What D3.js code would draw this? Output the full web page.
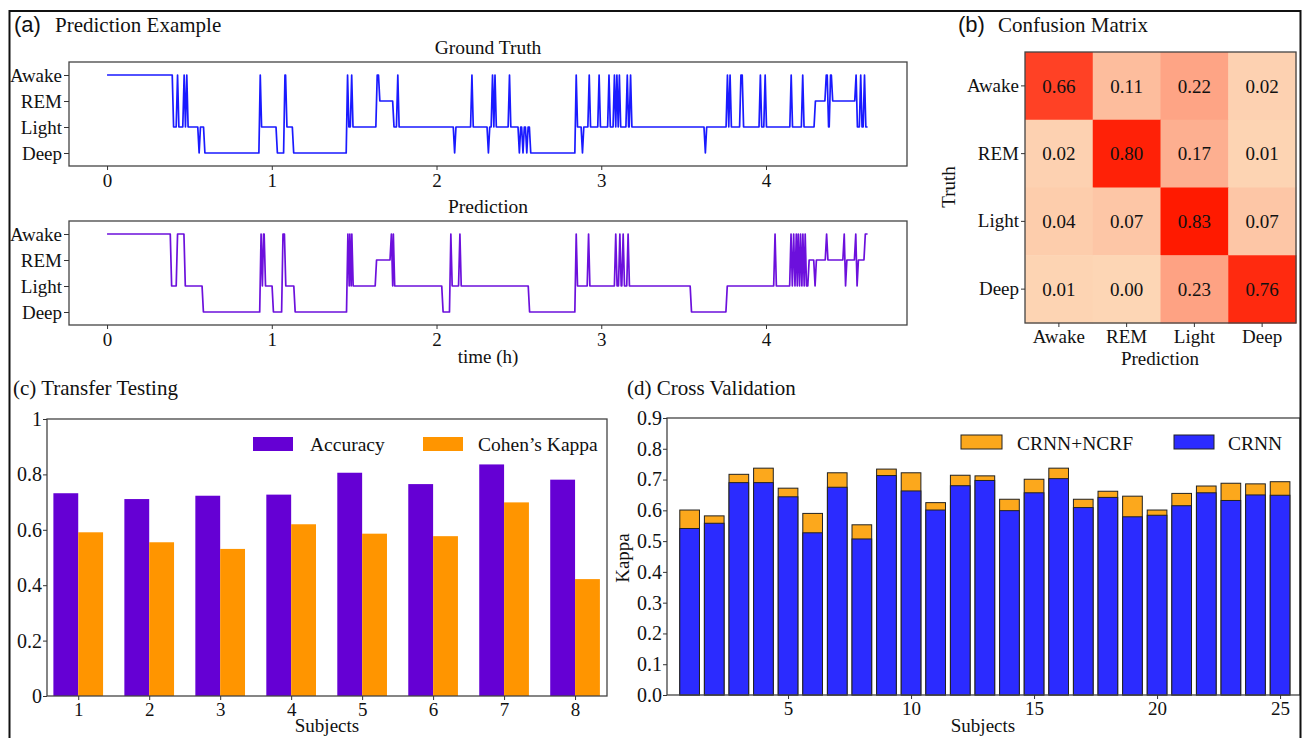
<!DOCTYPE html>
<html><head><meta charset="utf-8">
<script src="https://cdn.jsdelivr.net/npm/d3@7"></script>
<style>html,body{margin:0;padding:0;background:#fff;}svg{display:block;}</style>
</head><body>
<svg id="fig" width="1306" height="738"></svg>
<script>
// ---------------- DATA ----------------
const stageNames = ["Deep", "Light", "REM", "Awake"]; // codes 0..3
const hourTicks = [0, 1, 2, 3, 4];
// hypnogram stage changes: [start hour, stage code]
const gtStageChanges = [
 [0.000,3],[0.404,1],[0.428,3],[0.436,1],[0.468,3],[0.476,1],[0.484,3],[0.492,1],
 [0.559,0],[0.567,1],[0.594,0],[0.930,3],[0.938,1],[1.034,0],[1.080,3],[1.092,1],[1.133,0],
 [1.460,3],[1.468,1],[1.485,3],[1.493,1],[1.640,3],[1.656,2],[1.742,1],[1.765,3],[1.773,1],
 [2.110,0],[2.118,1],[2.215,3],[2.223,1],[2.315,0],[2.323,1],[2.340,3],[2.348,1],[2.355,3],[2.363,1],
 [2.443,3],[2.451,1],[2.503,0],[2.511,1],[2.525,0],[2.533,1],[2.548,0],[2.556,1],[2.572,0],
 [2.848,3],[2.856,1],[2.886,0],[2.894,1],[2.927,3],[2.935,1],[2.987,3],[2.995,1],[3.047,3],[3.055,1],
 [3.080,3],[3.088,1],[3.095,3],[3.103,1],[3.110,3],[3.118,1],[3.158,3],[3.166,1],[3.178,3],[3.186,1],
 [3.632,0],[3.640,1],[3.766,3],[3.774,1],[3.782,3],[3.790,1],[3.848,3],[3.864,1],[3.966,3],[3.974,1],[3.995,3],[4.003,1],
 [4.153,3],[4.161,1],[4.223,3],[4.231,1],[4.300,2],[4.366,3],[4.380,1],[4.392,3],[4.405,2],
 [4.547,3],[4.555,1],[4.575,3],[4.583,1],[4.598,3],[4.606,1]
];
const gtEndHour = 4.625;
const predStageChanges = [
 [0.000,3],[0.392,1],[0.428,3],[0.475,1],[0.585,0],
 [0.935,3],[0.943,1],[0.950,3],[0.962,1],[1.010,0],[1.068,3],[1.085,1],[1.142,0],
 [1.462,3],[1.470,1],[1.474,3],[1.482,1],[1.486,3],[1.494,1],[1.636,2],
 [1.726,3],[1.734,1],[1.738,3],[1.746,1],[2.040,0],[2.087,3],[2.095,1],[2.142,3],[2.150,1],
 [2.565,0],[2.848,3],[2.856,1],[2.923,3],[2.931,1],[3.088,3],[3.096,1],[3.113,3],[3.121,1],[3.133,3],[3.141,1],[3.163,3],[3.171,1],
 [3.548,0],[3.765,1],[4.055,3],[4.063,1],
 [4.152,3],[4.160,1],[4.168,3],[4.176,1],[4.184,3],[4.190,1],[4.196,3],[4.204,1],[4.210,3],[4.218,1],[4.224,3],[4.232,1],[4.238,3],[4.246,1],
 [4.262,2],[4.298,1],[4.306,2],[4.368,3],[4.376,2],[4.475,3],[4.483,1],[4.491,2],[4.545,3],[4.553,1],[4.561,2],[4.603,3]
];
const predEndHour = 4.625;
const epochHours = 1 / 120;

// confusion matrix (rows = truth, cols = prediction)
const cmLabels = ["Awake", "REM", "Light", "Deep"];
const cmValues = [
 [0.66, 0.11, 0.22, 0.02],
 [0.02, 0.80, 0.17, 0.01],
 [0.04, 0.07, 0.83, 0.07],
 [0.01, 0.00, 0.23, 0.76]
];

// transfer testing
const transferSubjects = [1, 2, 3, 4, 5, 6, 7, 8];
const transferAccuracy = [0.732, 0.711, 0.723, 0.727, 0.806, 0.765, 0.836, 0.781];
const transferKappa = [0.591, 0.555, 0.531, 0.620, 0.586, 0.577, 0.699, 0.422];
const transferTicks = [0, 0.2, 0.4, 0.6, 0.8, 1];

// cross validation
const cvSubjects = d3.range(1, 26);
const cvCRNN = [0.541,0.558,0.690,0.690,0.644,0.527,0.675,0.507,0.713,0.663,0.601,0.680,0.697,
                0.599,0.657,0.703,0.609,0.642,0.579,0.584,0.615,0.657,0.632,0.650,0.649];
const cvCRNNNCRF = [0.601,0.582,0.717,0.737,0.672,0.590,0.722,0.553,0.734,0.722,0.625,0.714,0.712,
                0.636,0.701,0.737,0.636,0.662,0.646,0.601,0.655,0.679,0.688,0.686,0.693];
const cvYTicks = [0,0.1,0.2,0.3,0.4,0.5,0.6,0.7,0.8,0.9];
const cvXTicks = [5, 10, 15, 20, 25];

// ---------------- DRAW ----------------
const SERIF = "'Liberation Serif','Times New Roman',serif";
const SANS = "'Liberation Sans',Arial,sans-serif";
const svg = d3.select("#fig");
svg.append("rect").attr("width",1306).attr("height",738).attr("fill","#fff");

function txt(x, y, s, size, opts = {}) {
  const t = svg.append("text").attr("x", x).attr("y", y).text(s)
    .attr("font-family", opts.family || SERIF).attr("font-size", size)
    .attr("fill", "#111").attr("text-anchor", opts.anchor || "start");
  if (opts.rotate) t.attr("transform", `rotate(${opts.rotate},${x},${y})`);
  return t;
}
function styleAxis(g, size) {
  g.select(".domain").remove();
  g.selectAll("text").attr("font-family", SERIF).attr("font-size", size).attr("fill", "#111");
  g.selectAll("line").attr("stroke", "#333").attr("stroke-width", 1);
}
function box(x0, y0, x1, y1) {
  svg.append("rect").attr("x", x0).attr("y", y0).attr("width", x1 - x0).attr("height", y1 - y0)
    .attr("fill", "none").attr("stroke", "#444").attr("stroke-width", 1.3);
}
function hypnoPoints(changes, end) {
  const pts = [];
  changes.forEach(([t, s], i) => {
    const next = i < changes.length - 1 ? changes[i + 1][0] : end;
    pts.push([t, s]);
    if (next - epochHours > t + 1e-6) pts.push([next - epochHours, s]);
  });
  return pts;
}

// ---- Panel (a) ----
txt(14, 32, "(a)", 22, {family: SANS});
txt(55, 32, "Prediction Example", 21);
const xA = d3.scaleLinear().domain([-0.231, 4.856]).range([69, 907]);
function hypnoPanel(top, bottom, changes, end, color, title) {
  const y = d3.scaleLinear().domain([-0.5, 3.5]).range([bottom, top]);
  const line = d3.line().x(d => xA(d[0])).y(d => y(d[1]));
  svg.append("path").datum(hypnoPoints(changes, end)).attr("d", line)
    .attr("fill", "none").attr("stroke", color).attr("stroke-width", 1.7).attr("stroke-linejoin", "round");
  box(69, top, 907, bottom);
  const gy = svg.append("g").attr("transform", `translate(69,0)`)
    .call(d3.axisLeft(y).tickValues([0,1,2,3]).tickFormat(i => stageNames[i]).tickSize(5).tickPadding(2));
  styleAxis(gy, 19);
  const gx = svg.append("g").attr("transform", `translate(0,${bottom})`)
    .call(d3.axisBottom(xA).tickValues(hourTicks).tickFormat(d3.format("d")).tickSize(4).tickPadding(4));
  styleAxis(gx, 19);
  txt(488, top - 8, title, 19.5, {anchor: "middle"});
}
hypnoPanel(62, 166, gtStageChanges, gtEndHour, "#1a1aff", "Ground Truth");
hypnoPanel(221, 325, predStageChanges, predEndHour, "#6c10dc", "Prediction");
txt(488, 363, "time (h)", 19, {anchor: "middle"});

// ---- Panel (b) ----
txt(958, 32, "(b)", 22, {family: SANS});
txt(998, 32, "Confusion Matrix", 21);
const xB = d3.scaleBand().domain(cmLabels).range([1025, 1296]);
const yB = d3.scaleBand().domain(cmLabels).range([52, 323]);
const cmColor = d3.scaleLinear().domain([0, 0.83]).range(["#fdd6b5", "#ff1a00"]).interpolate(d3.interpolateRgb).clamp(true);
const cells = [];
cmValues.forEach((row, i) => row.forEach((v, j) => cells.push({r: cmLabels[i], c: cmLabels[j], v})));
svg.append("g").selectAll("rect").data(cells).join("rect")
  .attr("x", d => xB(d.c)).attr("y", d => yB(d.r))
  .attr("width", xB.bandwidth() + 0.5).attr("height", yB.bandwidth() + 0.5)
  .attr("fill", d => cmColor(d.v));
svg.append("g").selectAll("text").data(cells).join("text")
  .attr("x", d => xB(d.c) + xB.bandwidth() / 2).attr("y", d => yB(d.r) + yB.bandwidth() / 2)
  .attr("dy", "0.35em").attr("text-anchor", "middle")
  .attr("font-family", SERIF).attr("font-size", 19).attr("fill", "#111")
  .text(d => d.v.toFixed(2));
box(1025, 52, 1296, 323);
const gyB = svg.append("g").attr("transform", "translate(1025,0)")
  .call(d3.axisLeft(yB).tickSize(4).tickPadding(2));
styleAxis(gyB, 19);
const gxB = svg.append("g").attr("transform", "translate(0,323)")
  .call(d3.axisBottom(xB).tickSize(4).tickPadding(3));
styleAxis(gxB, 19);
txt(1160, 365, "Prediction", 19, {anchor: "middle"});
txt(955, 187, "Truth", 19, {anchor: "middle", rotate: -90});

// ---- Panel (c) ----
txt(13, 395, "(c) Transfer Testing", 21);
const xC = d3.scaleLinear().domain([0.56, 8.45]).range([47, 607]);
const yC = d3.scaleLinear().domain([0, 1]).range([696, 419]);
const barW = 0.35;
const accColor = "#6500d4", kapColor = "#ff9500";
svg.append("g").selectAll("rect").data(transferSubjects).join("rect")
  .attr("x", (d) => xC(d - barW)).attr("width", (d) => xC(d) - xC(d - barW))
  .attr("y", (d, i) => yC(transferAccuracy[i])).attr("height", (d, i) => yC(0) - yC(transferAccuracy[i]))
  .attr("fill", accColor);
svg.append("g").selectAll("rect").data(transferSubjects).join("rect")
  .attr("x", (d) => xC(d)).attr("width", (d) => xC(d + barW) - xC(d))
  .attr("y", (d, i) => yC(transferKappa[i])).attr("height", (d, i) => yC(0) - yC(transferKappa[i]))
  .attr("fill", kapColor);
box(47, 419, 607, 696);
const gyC = svg.append("g").attr("transform", "translate(47,0)")
  .call(d3.axisLeft(yC).tickValues(transferTicks).tickFormat(v => (v === 0 || v === 1) ? String(v) : v.toFixed(1)).tickSize(4).tickPadding(1));
styleAxis(gyC, 20);
const gxC = svg.append("g").attr("transform", "translate(0,696)")
  .call(d3.axisBottom(xC).tickValues(transferSubjects).tickFormat(d3.format("d")).tickSize(4).tickPadding(3));
styleAxis(gxC, 19);
txt(327, 732, "Subjects", 19, {anchor: "middle"});
// legend
svg.append("rect").attr("x", 253).attr("y", 437).attr("width", 40).attr("height", 14).attr("fill", accColor);
txt(310, 451, "Accuracy", 19.5);
svg.append("rect").attr("x", 423).attr("y", 437).attr("width", 40).attr("height", 14).attr("fill", kapColor);
txt(478, 451, "Cohen\u2019s Kappa", 19.5);

// ---- Panel (d) ----
txt(627, 395, "(d) Cross Validation", 21);
const xD = d3.scaleLinear().domain([0.08, 25.81]).range([667, 1300]);
const yD = d3.scaleLinear().domain([0, 0.9]).range([695, 418]);
const cvBlue = "#2b2bff", cvOrange = "#fca81c";
svg.append("g").selectAll("rect").data(cvSubjects).join("rect")
  .attr("x", d => xD(d - 0.4)).attr("width", d => xD(d + 0.4) - xD(d - 0.4))
  .attr("y", (d, i) => yD(cvCRNNNCRF[i])).attr("height", (d, i) => yD(0) - yD(cvCRNNNCRF[i]))
  .attr("fill", cvOrange).attr("stroke", "#222").attr("stroke-width", 1);
svg.append("g").selectAll("rect").data(cvSubjects).join("rect")
  .attr("x", d => xD(d - 0.4)).attr("width", d => xD(d + 0.4) - xD(d - 0.4))
  .attr("y", (d, i) => yD(cvCRNN[i])).attr("height", (d, i) => yD(0) - yD(cvCRNN[i]))
  .attr("fill", cvBlue).attr("stroke", "#222").attr("stroke-width", 1);
box(667, 418, 1300, 695);
const gyD = svg.append("g").attr("transform", "translate(667,0)")
  .call(d3.axisLeft(yD).tickValues(cvYTicks).tickFormat(v => v.toFixed(1)).tickSize(4).tickPadding(1));
styleAxis(gyD, 20);
const gxD = svg.append("g").attr("transform", "translate(0,695)")
  .call(d3.axisBottom(xD).tickValues(cvXTicks).tickFormat(d3.format("d")).tickSize(4).tickPadding(3));
styleAxis(gxD, 19);
txt(983, 732, "Subjects", 19, {anchor: "middle"});
txt(629, 558, "Kappa", 19, {anchor: "middle", rotate: -90});
// legend
svg.append("rect").attr("x", 961).attr("y", 435).attr("width", 41).attr("height", 14).attr("fill", cvOrange).attr("stroke", "#222");
txt(1017, 450, "CRNN+NCRF", 19.5);
svg.append("rect").attr("x", 1174).attr("y", 435).attr("width", 40).attr("height", 14).attr("fill", cvBlue).attr("stroke", "#222");
txt(1228, 450, "CRNN", 19.5);

// ---- outer frame ----
svg.append("path").attr("d", "M9.5,738 V11 H1300.5 V738").attr("fill", "none")
  .attr("stroke", "#111").attr("stroke-width", 2);
</script>
</body></html>
